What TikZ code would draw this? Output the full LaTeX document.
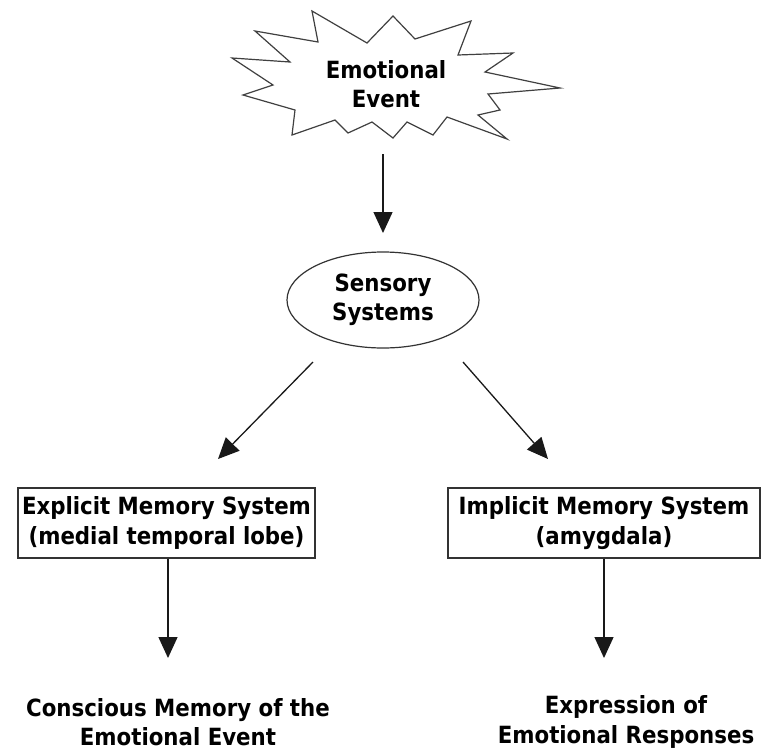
\documentclass[tikz,border=0pt]{standalone}
\usepackage{fontspec}
\setmainfont{DejaVu Sans Condensed}
\usetikzlibrary{shapes.geometric,arrows.meta}
\tikzset{
  lbl/.style={font=\bfseries\fontsize{23.7}{29.5}\selectfont, align=center, inner sep=0pt},
  conn/.style={line width=1.3pt, draw=black!90, -{Triangle[width=19pt,length=21pt]}},
  membox/.style={draw=black!80, line width=1.2pt, minimum height=70pt, inner sep=2pt},
  burst/.style={draw=black!75, line width=1.2pt, line join=miter}
}
\begin{document}
\begin{tikzpicture}[x=1pt,y=-1pt]
\useasboundingbox (0,0) rectangle (762,750);
\fill[white] (0,0) rectangle (762,750);
% starburst
\draw[burst] (232,58) -- (290,62) -- (255,31) -- (318,42) -- (312,11) -- (367,43) -- (393,16)
  -- (415,39) -- (471,21) -- (458,55) -- (513,53) -- (485,72) -- (560,88) -- (488,94)
  -- (500,110) -- (478,115) -- (507,139) -- (447,117) -- (433,135) -- (407,122) -- (393,138)
  -- (372,122) -- (348,133) -- (335,120) -- (292,135) -- (295,110) -- (243,95) -- (273,85) -- cycle;
\node[lbl] (ev) at (386,84) {Emotional\\Event};
\coordinate (evout) at (383,154);
\coordinate (ssin) at (383,233);
% sensory
\node[draw=black!80, line width=1.2pt, ellipse, minimum width=192pt, minimum height=96pt, lbl] (ss) at (383,300) {Sensory\\Systems};
\coordinate (ssl) at (313,362);
\coordinate (ssr) at (463,362);
\coordinate (lbin) at (218,459);
\coordinate (rbin) at (548,459);
% boxes
\node[membox, minimum width=297pt, lbl] (lb) at (166.5,523) {Explicit Memory System\\(medial temporal lobe)};
\node[membox, minimum width=312pt, lbl] (rb) at (604,523) {Implicit Memory System\\(amygdala)};
\coordinate (lt) at (168,658);
\coordinate (rt) at (604,658);
% outcomes
\node[lbl] (lo) at (178,722) {Conscious Memory of the\\Emotional Event};
\node[lbl] (ro) at (626,722) {Expression of\\Emotional Responses};
% connectors
\draw[conn] (evout) -- (ssin);
\draw[conn] (ssl) -- (lbin);
\draw[conn] (ssr) -- (rbin);
\draw[conn] (lb.south -| lt) -- (lt);
\draw[conn] (rb.south -| rt) -- (rt);
\end{tikzpicture}
\end{document}
